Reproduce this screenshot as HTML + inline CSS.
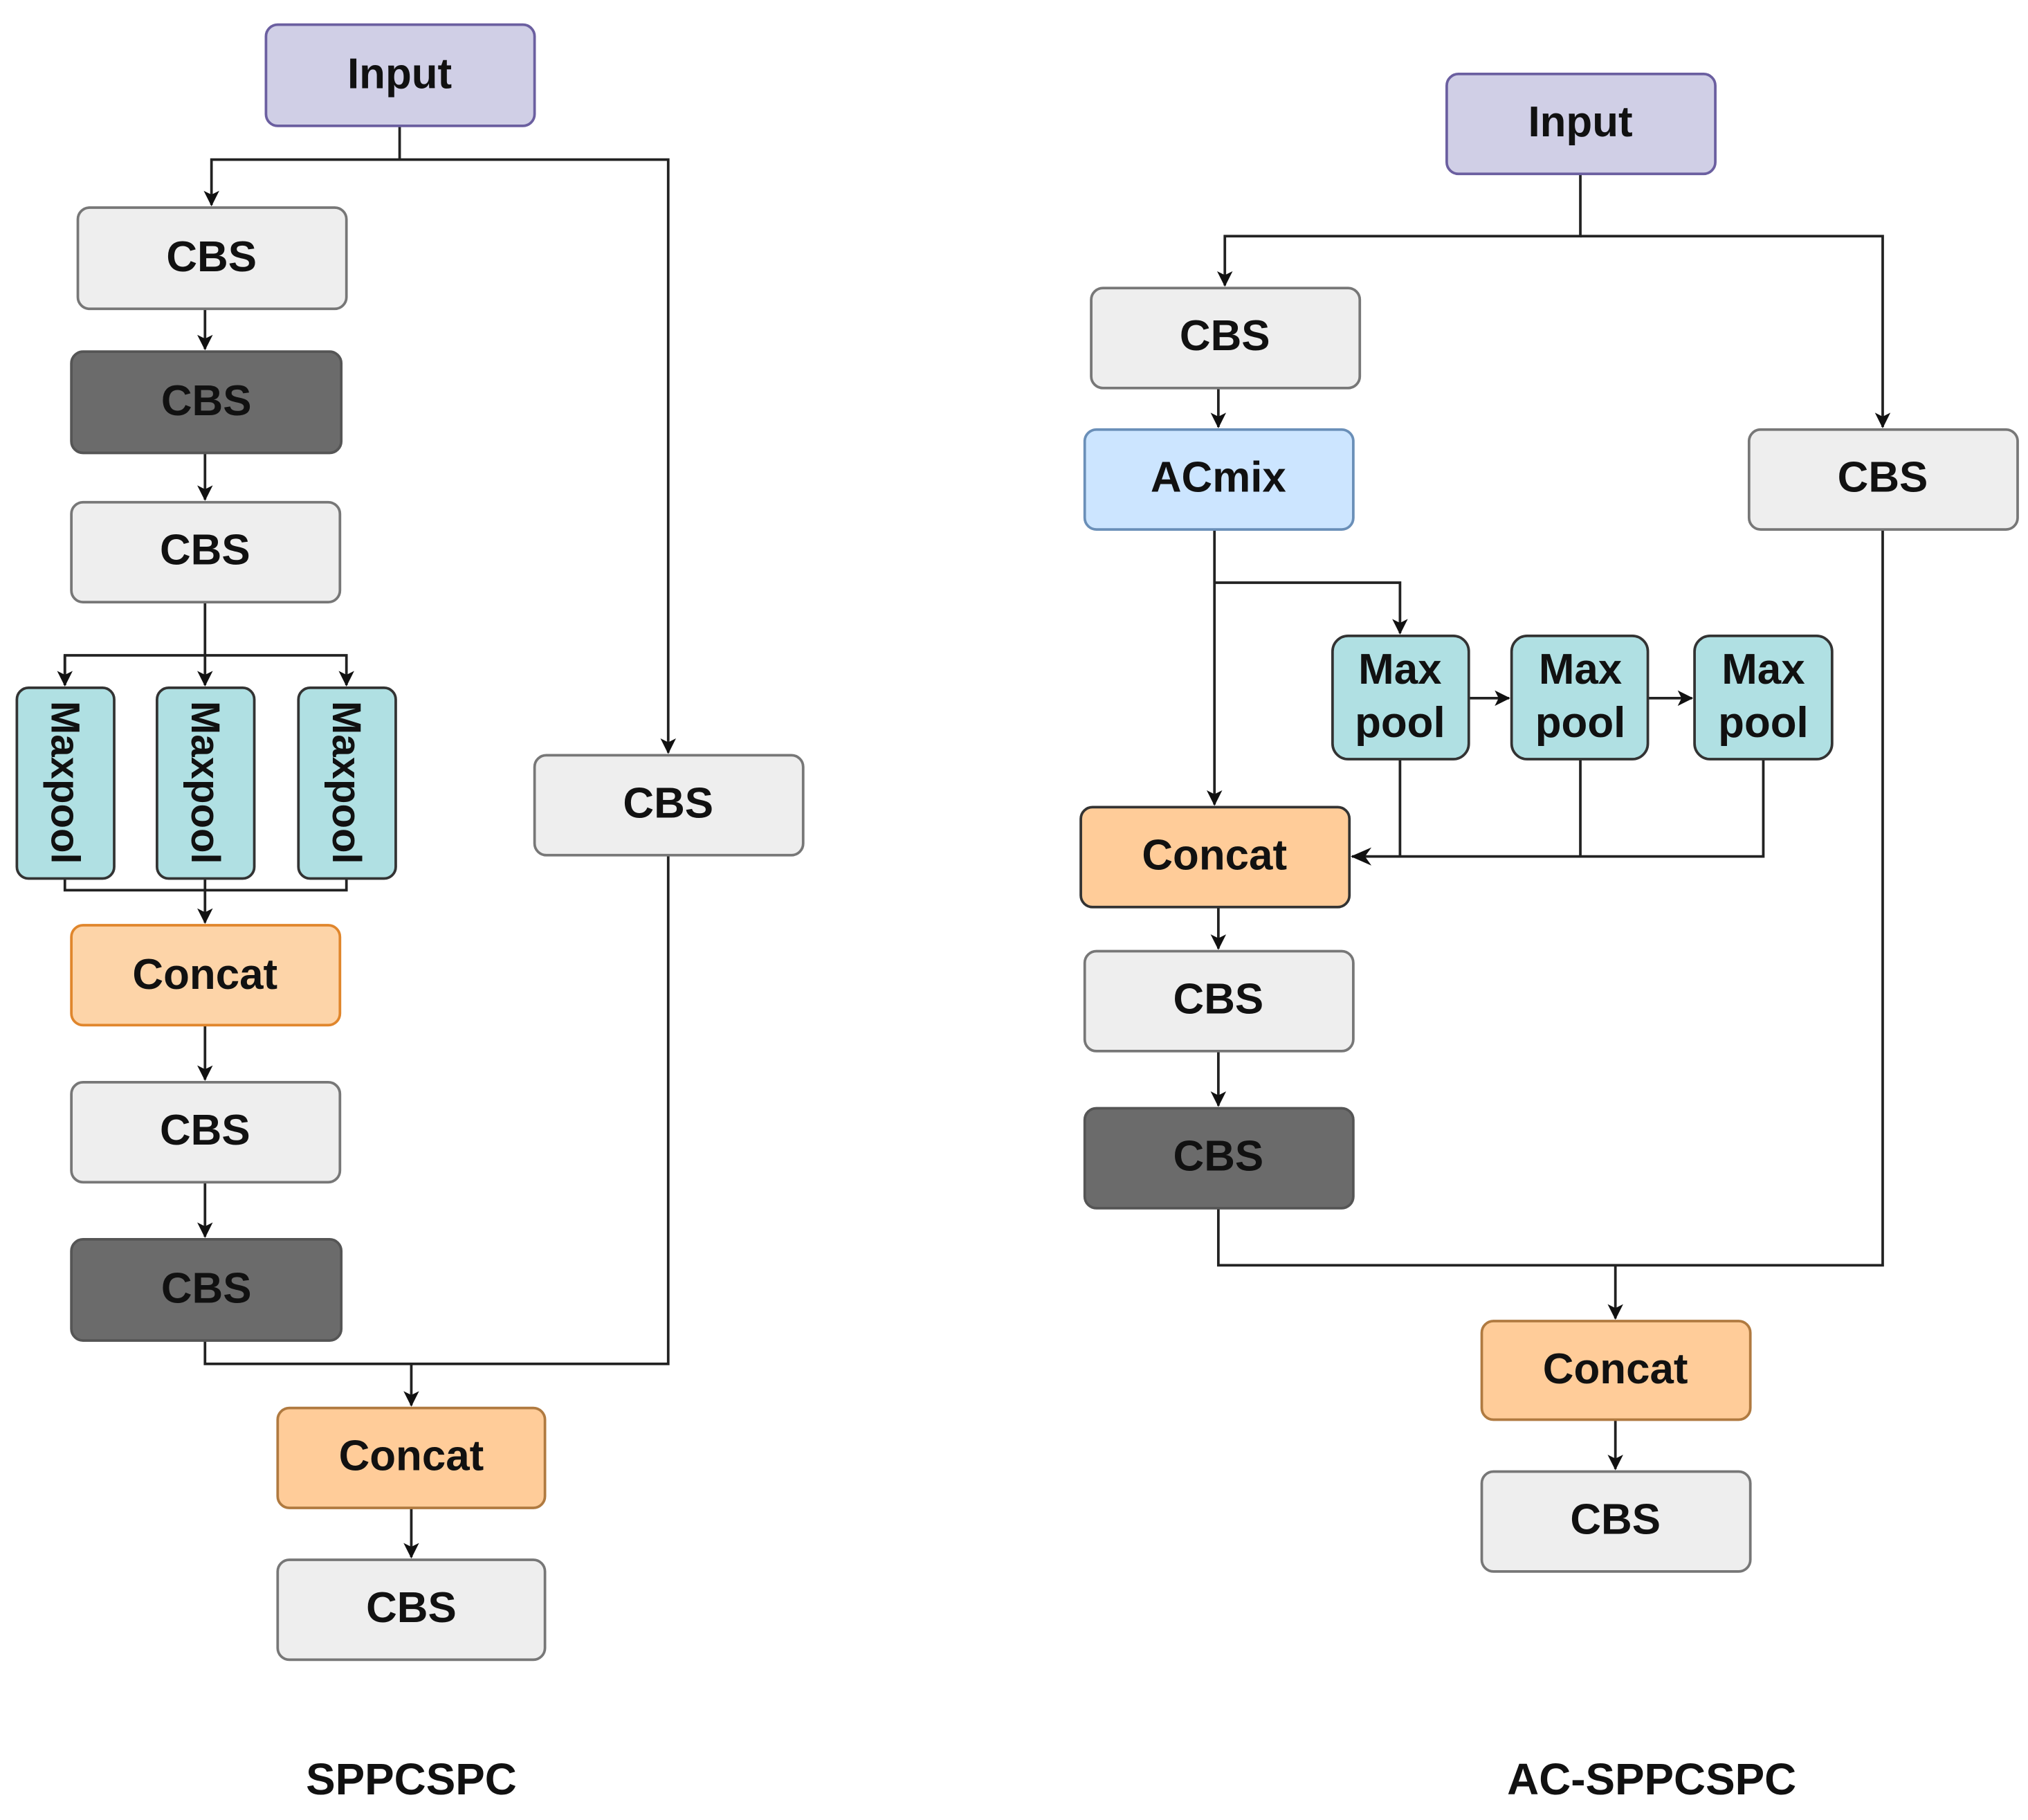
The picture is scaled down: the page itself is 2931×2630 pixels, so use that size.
<!DOCTYPE html>
<html><head><meta charset="utf-8"><style>
html,body{margin:0;padding:0;background:#fff;}
svg{display:block;}
text{font-family:"Liberation Sans",sans-serif;font-weight:bold;fill:#111;}
</style></head><body>
<svg width="2931" height="2630" viewBox="0 0 1563 1402.5" preserveAspectRatio="none" xmlns="http://www.w3.org/2000/svg">
<defs>
<marker id="a" markerWidth="12" markerHeight="12" refX="11" refY="6" orient="auto" markerUnits="userSpaceOnUse">
<path d="M0,0 L12,6 L0,12 L3,6 Z" fill="#111"/></marker>
<marker id="b" markerWidth="16" markerHeight="14" refX="15" refY="7" orient="auto" markerUnits="userSpaceOnUse">
<path d="M0,0 L16,7 L0,14 L5,7 Z" fill="#111"/></marker>
</defs>
<g fill="none" stroke="#222" stroke-width="2">
<polyline points="308,97 308,123 163,123 163,158" marker-end="url(#a)"/>
<polyline points="308,123 515,123 515,580" marker-end="url(#a)"/>
<line x1="158" y1="238" x2="158" y2="269" marker-end="url(#a)"/>
<line x1="158" y1="349" x2="158" y2="385" marker-end="url(#a)"/>
<line x1="158" y1="464" x2="158" y2="528" marker-end="url(#a)"/>
<polyline points="50,528 50,505 267,505 267,528" marker-end="url(#a)"/>
<line x1="50" y1="505" x2="50" y2="528" marker-end="url(#a)"/>
<polyline points="50,677 50,686 267,686 267,677"/>
<line x1="158" y1="677" x2="158" y2="711" marker-end="url(#a)"/>
<line x1="158" y1="790" x2="158" y2="832" marker-end="url(#a)"/>
<line x1="158" y1="911" x2="158" y2="953" marker-end="url(#a)"/>
<polyline points="158,1033 158,1051 515,1051 515,659"/>
<line x1="317" y1="1051" x2="317" y2="1083" marker-end="url(#a)"/>
<line x1="317" y1="1162" x2="317" y2="1200" marker-end="url(#a)"/>
<polyline points="1218,134 1218,182 944,182 944,220" marker-end="url(#a)"/>
<polyline points="1218,182 1451,182 1451,329" marker-end="url(#a)"/>
<line x1="939" y1="299" x2="939" y2="329" marker-end="url(#a)"/>
<line x1="936" y1="408" x2="936" y2="620" marker-end="url(#a)"/>
<polyline points="936,449 1079,449 1079,488" marker-end="url(#a)"/>
<line x1="1132" y1="538" x2="1163" y2="538" marker-end="url(#a)"/>
<line x1="1270" y1="538" x2="1304" y2="538" marker-end="url(#a)"/>
<line x1="1079" y1="585" x2="1079" y2="660"/>
<line x1="1218" y1="585" x2="1218" y2="660"/>
<polyline points="1359,585 1359,660 1042,660" marker-end="url(#b)"/>
<line x1="939" y1="699" x2="939" y2="731" marker-end="url(#a)"/>
<line x1="939" y1="810" x2="939" y2="852" marker-end="url(#a)"/>
<polyline points="939,931 939,975 1451,975 1451,408"/>
<line x1="1245" y1="975" x2="1245" y2="1016" marker-end="url(#a)"/>
<line x1="1245" y1="1094" x2="1245" y2="1132" marker-end="url(#a)"/>
</g>
<g stroke-width="2">
<rect x="205" y="19" width="207" height="78" rx="9" fill="#d0cfe6" stroke="#6b5fa0"/>
<rect x="60" y="160" width="207" height="78" rx="9" fill="#eeeeee" stroke="#777"/>
<rect x="55" y="271" width="208" height="78" rx="9" fill="#6b6b6b" stroke="#555"/>
<rect x="55" y="387" width="207" height="77" rx="9" fill="#eeeeee" stroke="#777"/>
<rect x="13" y="530" width="75" height="147" rx="9" fill="#b0e0e3" stroke="#333"/>
<rect x="121" y="530" width="75" height="147" rx="9" fill="#b0e0e3" stroke="#333"/>
<rect x="230" y="530" width="75" height="147" rx="9" fill="#b0e0e3" stroke="#333"/>
<rect x="55" y="713" width="207" height="77" rx="9" fill="#fdd4a8" stroke="#e0862c"/>
<rect x="55" y="834" width="207" height="77" rx="9" fill="#eeeeee" stroke="#777"/>
<rect x="55" y="955" width="208" height="78" rx="9" fill="#6b6b6b" stroke="#555"/>
<rect x="412" y="582" width="207" height="77" rx="9" fill="#eeeeee" stroke="#777"/>
<rect x="214" y="1085" width="206" height="77" rx="9" fill="#ffcc99" stroke="#b07a40"/>
<rect x="214" y="1202" width="206" height="77" rx="9" fill="#eeeeee" stroke="#777"/>
<rect x="1115" y="57" width="207" height="77" rx="9" fill="#d0cfe6" stroke="#6b5fa0"/>
<rect x="841" y="222" width="207" height="77" rx="9" fill="#eeeeee" stroke="#777"/>
<rect x="836" y="331" width="207" height="77" rx="9" fill="#cce5ff" stroke="#6a8fb8"/>
<rect x="1348" y="331" width="207" height="77" rx="9" fill="#eeeeee" stroke="#777"/>
<rect x="1027" y="490" width="105" height="95" rx="12" fill="#b0e0e3" stroke="#333"/>
<rect x="1165" y="490" width="105" height="95" rx="12" fill="#b0e0e3" stroke="#333"/>
<rect x="1306" y="490" width="106" height="95" rx="12" fill="#b0e0e3" stroke="#333"/>
<rect x="833" y="622" width="207" height="77" rx="9" fill="#ffcc99" stroke="#333"/>
<rect x="836" y="733" width="207" height="77" rx="9" fill="#eeeeee" stroke="#777"/>
<rect x="836" y="854" width="207" height="77" rx="9" fill="#6b6b6b" stroke="#555"/>
<rect x="1142" y="1018" width="207" height="76" rx="9" fill="#ffcc99" stroke="#b07a40"/>
<rect x="1142" y="1134" width="207" height="77" rx="9" fill="#eeeeee" stroke="#777"/>
</g>
<g font-size="33" text-anchor="middle" dominant-baseline="central">
<text x="308" y="57">Input</text>
<text x="163" y="198">CBS</text>
<text x="159" y="309">CBS</text>
<text x="158" y="424">CBS</text>
<text x="158" y="751">Concat</text>
<text x="158" y="871">CBS</text>
<text x="159" y="993">CBS</text>
<text x="515" y="619">CBS</text>
<text x="317" y="1122">Concat</text>
<text x="317" y="1239">CBS</text>
<text transform="translate(50,603) rotate(90)" font-size="31">Maxpool</text>
<text transform="translate(158,603) rotate(90)" font-size="31">Maxpool</text>
<text transform="translate(267,603) rotate(90)" font-size="31">Maxpool</text>
<text x="1218" y="94">Input</text>
<text x="944" y="259">CBS</text>
<text x="939" y="368">ACmix</text>
<text x="1451" y="368">CBS</text>
<text x="1079" y="516">Max</text><text x="1079" y="557">pool</text>
<text x="1218" y="516">Max</text><text x="1218" y="557">pool</text>
<text x="1359" y="516">Max</text><text x="1359" y="557">pool</text>
<text x="936" y="659">Concat</text>
<text x="939" y="770">CBS</text>
<text x="939" y="891">CBS</text>
<text x="1245" y="1055">Concat</text>
<text x="1245" y="1171">CBS</text>
<text x="317" y="1371" font-size="34">SPPCSPC</text>
<text x="1273" y="1371" font-size="34">AC-SPPCSPC</text>
</g>
</svg>
</body></html>
